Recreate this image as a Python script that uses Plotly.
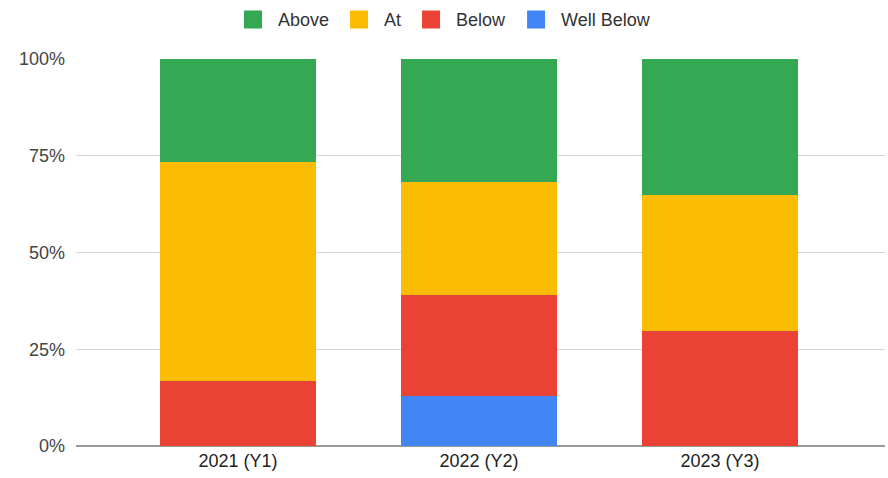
import plotly.graph_objects as go

# Share of students in each performance band, per school year (%)
years = ["2021 (Y1)", "2022 (Y2)", "2023 (Y3)"]
well_below = [0.0, 12.9, 0.0]
below = [16.9, 26.0, 29.6]
at = [56.5, 29.2, 35.2]
above = [26.6, 31.9, 35.2]

bands = [
    ("Well Below", well_below, "#4285F4"),
    ("Below", below, "#EA4335"),
    ("At", at, "#FBBC04"),
    ("Above", above, "#34A853"),
]

fig = go.Figure()
for name, vals, color in bands:
    fig.add_trace(go.Bar(
        name=name, x=years, y=vals, legendgroup=name, showlegend=False,
        marker=dict(color=color, line=dict(width=0)),
        width=0.647,
    ))
# legend-only entries, so the swatches can be drawn as larger squares
for name, vals, color in bands:
    fig.add_trace(go.Scatter(
        name=name, x=[None], y=[None], mode="markers", legendgroup=name,
        marker=dict(symbol="square", size=16, color=color,
                    line=dict(color=color, width=2)),
        hoverinfo="skip",
    ))

fig.update_layout(
    barmode="stack",
    width=888, height=478,
    margin=dict(l=76, r=3, t=59, b=31.5, autoexpand=False),
    paper_bgcolor="white", plot_bgcolor="white",
    font=dict(family="Liberation Sans, Arial, sans-serif", size=18, color="#444"),
    legend=dict(
        orientation="h", traceorder="reversed",
        x=0.4524, xanchor="center", y=1.1016, yanchor="middle",
        font=dict(size=18, color="#333"),
        itemwidth=40,
    ),
    xaxis=dict(
        range=[-0.672, 2.685], showgrid=False, showline=False,
        ticks="", tickfont=dict(size=18, color="#222"),
        ticklabelstandoff=2,
    ),
    yaxis=dict(
        range=[0, 100], tickvals=[0, 25, 50, 75, 100],
        ticktext=["0%", "25%", "50%", "75%", "100%"],
        showgrid=True, gridcolor="#d4d4d4", gridwidth=1,
        zeroline=True, zerolinecolor="#999", zerolinewidth=1.5,
        ticks="", ticklabelstandoff=10,
        tickfont=dict(size=18, color="#444"),
    ),
)

fig.write_html("out.html")
